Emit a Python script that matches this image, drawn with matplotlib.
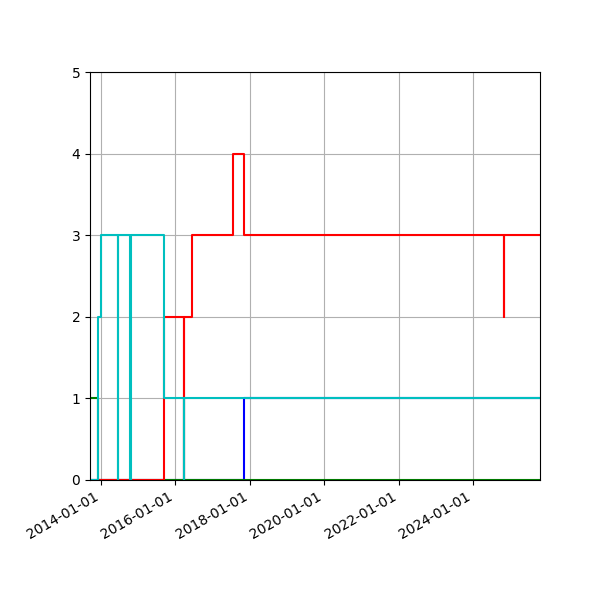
import pandas as pd
import matplotlib
matplotlib.use("Agg")
import matplotlib.pyplot as plt
import matplotlib.dates as mdates

# step data
blue_dates = ["2013-09-17", "2017-11-04", "2025-10-20"]
blue_vals = [0, 1, 1]

green_dates = ["2013-09-17", "2013-12-06", "2025-10-20"]
green_vals = [1, 0, 0]

red_dates = ["2013-09-17", "2015-09-18", "2016-03-25", "2016-04-01", "2016-06-15",
             "2017-07-26", "2017-11-08", "2024-10-28", "2024-11-04", "2025-10-20"]
red_vals = [0, 2, 0, 2, 3, 4, 3, 2, 3, 3]

cyan_dates = ["2013-09-17", "2013-12-09", "2014-01-07", "2014-06-16", "2014-06-23",
              "2014-10-15", "2014-10-22", "2015-09-18", "2016-03-25", "2016-04-01",
              "2025-10-20"]
cyan_vals = [0, 2, 3, 0, 3, 0, 3, 1, 0, 1, 1]

series = [
    (blue_dates, blue_vals, "b"),
    (green_dates, green_vals, "g"),
    (red_dates, red_vals, "r"),
    (cyan_dates, cyan_vals, "c"),
]

fig, ax = plt.subplots(figsize=(6, 6), dpi=100)
for d, v, col in series:
    ax.plot(pd.to_datetime(d), v, color=col, drawstyle="steps-post")

ax.set_xlim(pd.Timestamp("2013-09-17"), pd.Timestamp("2025-10-20"))
ax.set_ylim(0, 5)
ax.set_yticks(range(6))
ax.xaxis.set_major_locator(mdates.YearLocator(2))
ax.xaxis.set_major_formatter(mdates.DateFormatter("%Y-%m-%d"))
ax.grid(True)
fig.autofmt_xdate()
fig.subplots_adjust(left=0.15, right=0.9, top=0.88, bottom=0.2)

plt.savefig("out.png")
